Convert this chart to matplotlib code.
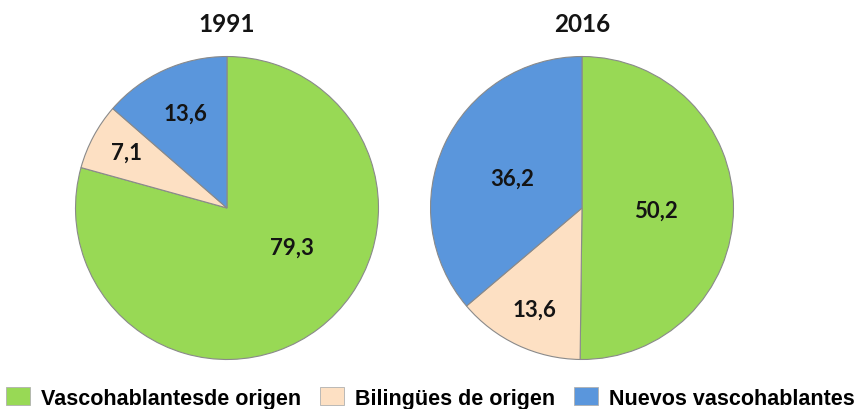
import numpy as np
import matplotlib.pyplot as plt
from matplotlib.patches import Patch

# data
years = ['1991', '2016']
categories = ['Vascohablantesde origen', 'Bilingües de origen', 'Nuevos vascohablantes']
vals_1991 = [79.3, 7.1, 13.6]
vals_2016 = [50.2, 13.6, 36.2]
labels_1991 = ['79,3', '7,1', '13,6']
labels_2016 = ['50,2', '13,6', '36,2']

colors = ['#98d955', '#fde0c3', '#5a96dc']
edge = '#8a8a8a'

# label placement (radius as fraction, angle shift in deg from wedge middle)
lab_r = [[0.50, 0.755, 0.685], [0.49, 0.74, 0.50]]
lab_shift = [[21.7, -0.7, -1], [-1.6, 0, 2]]

W, H = 861, 410
fig = plt.figure(figsize=(W / 100, H / 100), dpi=100)

centers = [(227, 209), (582, 209)]
radius = 153

for i, (vals, labs) in enumerate([(vals_1991, labels_1991), (vals_2016, labels_2016)]):
    cx, cy = centers[i]
    ax = fig.add_axes([(cx - radius) / W, 1 - (cy + radius) / H, 2 * radius / W, 2 * radius / H])
    wedges, _ = ax.pie(vals, colors=colors, startangle=90, counterclock=False,
                       wedgeprops=dict(edgecolor=edge, linewidth=0.8))
    ax.set_xlim(-1.01, 1.01)
    ax.set_ylim(-1.01, 1.01)
    ax.set_aspect('equal')
    for j, w in enumerate(wedges):
        mid = np.deg2rad((w.theta1 + w.theta2) / 2 + lab_shift[i][j])
        r = lab_r[i][j]
        ax.text(r * np.cos(mid), r * np.sin(mid), labs[j], ha='center', va='center',
                fontsize=16, fontweight='bold', family=['Lato', 'DejaVu Sans'], color='#141414')
    fig.text(cx / W, 1 - 24 / H, years[i], ha='center', va='center',
             fontsize=17.5, fontweight='bold', family=['Lato', 'DejaVu Sans'], color='#141414')

handles = [Patch(facecolor=c, edgecolor='#b0b0b0', linewidth=0.6) for c in colors]
fig.legend(handles, categories, loc='center', bbox_to_anchor=(0.5, 1 - 399 / H), ncol=3,
           frameon=False, handlelength=1.1, handleheight=0.9, handletextpad=0.5, columnspacing=0.9,
           borderaxespad=0, borderpad=0,
           prop=dict(family=['Liberation Sans', 'DejaVu Sans'], weight='bold', size=15.5))

fig.savefig('out.png', dpi=100)
